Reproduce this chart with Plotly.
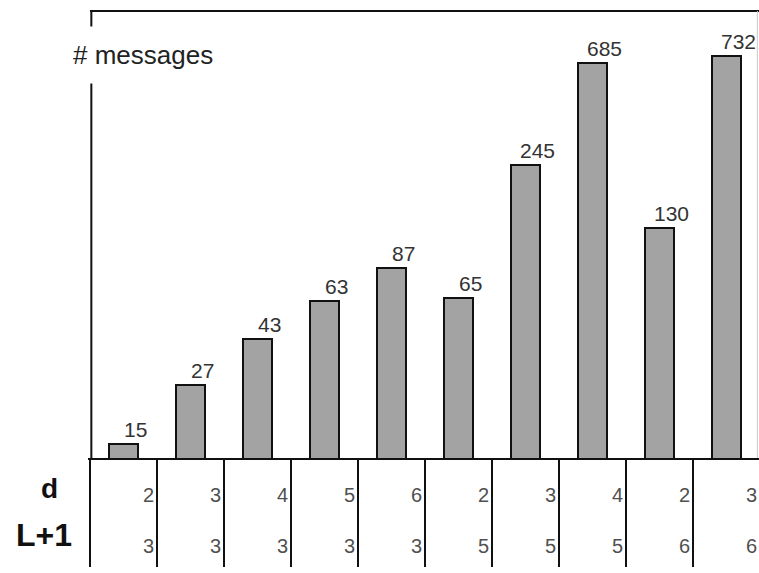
import numpy as np
import plotly.graph_objects as go

# Message counts per (d, L+1) configuration
messages = [15, 27, 43, 63, 87, 65, 245, 685, 130, 732]
d_values = [2, 3, 4, 5, 6, 2, 3, 4, 2, 3]
l_plus_1 = [3, 3, 3, 3, 3, 5, 5, 5, 6, 6]
row_labels = ["d", "L+1"]
y_title = "# messages"

FONT = "Liberation Sans, Arial, Helvetica, sans-serif"
W, H = 759, 573
ML, MR, MT, MB = 90, 1, 11, 114
X_RANGE = [-0.5, len(messages) - 0.53]
PLOT_W = W - ML - MR
PLOT_H = H - MT - MB


def x_paper(xv):
    """Data x -> paper fraction, following the x-axis range."""
    return (xv - X_RANGE[0]) / (X_RANGE[1] - X_RANGE[0])


def y_paper_px(py):
    """Pixel row (from top of page) -> paper fraction."""
    return (H - MB - py) / PLOT_H


x = list(range(len(messages)))

fig = go.Figure(
    go.Bar(
        x=x,
        y=messages,
        width=0.42,
        marker=dict(color="#a3a3a3", line=dict(color="#111111", width=2)),
        hoverinfo="y",
    )
)

shapes = [
    # top frame line
    dict(type="line", xref="paper", yref="paper", x0=0, x1=1.02, y0=1, y1=1,
         line=dict(color="#111111", width=2)),
    # left axis line
    dict(type="line", xref="paper", yref="paper", x0=0.002, x1=0.002, y0=0, y1=1,
         line=dict(color="#111111", width=2)),
    # light right border
    dict(type="line", xref="paper", yref="paper", x0=0.999, x1=0.999, y0=0, y1=1,
         line=dict(color="#c8c8c8", width=1)),
    # table header line
    dict(type="line", xref="paper", yref="paper", x0=-0.003, x1=1.02, y0=0, y1=0,
         line=dict(color="#111111", width=2)),
]
table_bottom = y_paper_px(567)
for k in range(len(messages) + 1):
    xp = x_paper(k - 0.5)
    shapes.append(dict(type="line", xref="paper", yref="paper", x0=xp, x1=xp,
                       y0=0, y1=table_bottom, line=dict(color="#111111", width=2)))

annotations = [
    dict(text=y_title, xref="paper", yref="paper", x=(143 - ML) / PLOT_W,
         y=y_paper_px(55), xanchor="center", yanchor="middle", showarrow=False,
         bgcolor="white", borderpad=13,
         font=dict(family=FONT, size=26, color="#222222")),
]

# value labels at the upper right of each bar
for k, v in enumerate(messages):
    annotations.append(dict(text=str(v), xref="x", yref="y", x=k, y=np.log10(v),
                            xanchor="center", yanchor="bottom", xshift=12, yshift=1,
                            showarrow=False,
                            font=dict(family=FONT, size=21, color="#333333")))

# parameter table under the bars
row_y = [y_paper_px(495), y_paper_px(546)]
for row, vals in enumerate([d_values, l_plus_1]):
    for k, v in enumerate(vals):
        annotations.append(dict(text=str(v), xref="paper", yref="paper",
                                x=x_paper(k + 0.5), y=row_y[row], xanchor="right",
                                yanchor="middle", xshift=-1, showarrow=False,
                                font=dict(family=FONT, size=20, color="#505050")))

label_pos = [(49, 488, 28), (44, 535, 32)]
for name, (px, py, size) in zip(row_labels, label_pos):
    annotations.append(dict(text=f"<b>{name}</b>", xref="paper", yref="paper",
                            x=(px - ML) / PLOT_W, y=y_paper_px(py),
                            xanchor="center", yanchor="middle", showarrow=False,
                            font=dict(family=FONT, size=size, color="#111111")))

fig.update_layout(
    width=W,
    height=H,
    margin=dict(l=ML, r=MR, t=MT, b=MB, pad=0),
    paper_bgcolor="white",
    plot_bgcolor="white",
    showlegend=False,
    bargap=0,
    xaxis=dict(range=X_RANGE, visible=False, fixedrange=True),
    yaxis=dict(type="log", range=[1.11, 3.06], visible=False, fixedrange=True),
    shapes=shapes,
    annotations=annotations,
)

fig.write_html("out.html")
